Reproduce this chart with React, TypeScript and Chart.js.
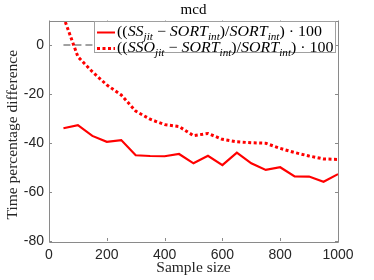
import React, { useEffect, useRef } from 'react';
import { Chart, registerables } from 'chart.js';

Chart.register(...registerables);

const SAMPLE_SIZES = [50, 100, 150, 200, 250, 300, 350, 400, 450, 500, 550, 600, 650, 700, 750, 800, 850, 900, 950, 1000];
const SS_JIT = [-34.0, -32.7, -37.1, -39.5, -38.8, -45.0, -45.3, -45.4, -44.5, -48.3, -45.2, -49.0, -43.9, -48.3, -51.0, -49.9, -53.6, -53.7, -55.8, -52.7];
const SSO_JIT = [11.5, -4.8, -10.9, -16.3, -20.4, -27.0, -30.3, -32.5, -33.3, -37.0, -36.1, -38.5, -39.5, -39.9, -40.1, -42.2, -43.9, -45.3, -46.5, -46.7];
const ZERO_X = [50, 1000];
const ZERO_Y = [0, 0];
const X_TICKS = [0, 200, 400, 600, 800, 1000];
const Y_TICKS = [-80, -60, -40, -20, 0];
const X_RANGE = [0, 1000];
const Y_RANGE = [-80, 10];
const TITLE = 'mcd';
const X_TITLE = 'Sample size';
const Y_TITLE = 'Time percentage difference';

type Seg = { t: string; it?: boolean; sub?: boolean };
const LEGEND_1: Seg[] = [
  { t: '((' }, { t: 'SS', it: true }, { t: 'jit', it: true, sub: true }, { t: ' − ' },
  { t: 'SORT', it: true }, { t: 'int', it: true, sub: true }, { t: ')/' },
  { t: 'SORT', it: true }, { t: 'int', it: true, sub: true }, { t: ') · 100' },
];
const LEGEND_2: Seg[] = [
  { t: '((' }, { t: 'SSO', it: true }, { t: 'jit', it: true, sub: true }, { t: ' − ' },
  { t: 'SORT', it: true }, { t: 'int', it: true, sub: true }, { t: ')/' },
  { t: 'SORT', it: true }, { t: 'int', it: true, sub: true }, { t: ') · 100' },
];

const SERIF = '"Liberation Serif", "DejaVu Serif", serif';
const AXIS_COLOR = '#262626';
const FRAME_COLOR = '#8a8a8a';
const RED = '#ff0000';

function mathWidth(ctx: CanvasRenderingContext2D, segs: Seg[], size: number) {
  let w = 0;
  for (const s of segs) {
    const fs = s.sub ? size * 0.7 : size;
    ctx.font = `${s.it ? 'italic ' : ''}${fs}px ${SERIF}`;
    w += ctx.measureText(s.t).width;
  }
  return w;
}

function drawMath(ctx: CanvasRenderingContext2D, segs: Seg[], x: number, y: number, size: number, sx: number) {
  ctx.save();
  ctx.translate(x, y);
  ctx.scale(sx, 1);
  let cx = 0;
  ctx.textBaseline = 'middle';
  ctx.textAlign = 'left';
  for (const s of segs) {
    const fs = s.sub ? size * 0.7 : size;
    ctx.font = `${s.it ? 'italic ' : ''}${fs}px ${SERIF}`;
    const dy = s.sub ? size * 0.3 : 0;
    ctx.fillText(s.t, cx, dy);
    cx += ctx.measureText(s.t).width;
  }
  ctx.restore();
}

const framePlugin = {
  id: 'frame',
  afterDatasetsDraw(chart: any) {
    const ctx: CanvasRenderingContext2D = chart.ctx;
    const { left, right, top, bottom } = chart.chartArea;
    const xs = chart.scales.x;
    const ys = chart.scales.y;
    ctx.save();
    ctx.strokeStyle = FRAME_COLOR;
    ctx.lineWidth = 1;
    ctx.setLineDash([]);
    ctx.beginPath();
    ctx.rect(Math.round(left) + 0.5, Math.round(top) + 0.5, Math.round(right - left), Math.round(bottom - top));
    ctx.stroke();
    const tl = 3;
    ctx.beginPath();
    for (const v of X_TICKS) {
      const px = Math.round(xs.getPixelForValue(v)) + 0.5;
      ctx.moveTo(px, bottom);
      ctx.lineTo(px, bottom - tl);
      ctx.moveTo(px, top);
      ctx.lineTo(px, top + tl);
    }
    for (const v of Y_TICKS) {
      const py = Math.round(ys.getPixelForValue(v)) + 0.5;
      ctx.moveTo(left, py);
      ctx.lineTo(left + tl, py);
      ctx.moveTo(right, py);
      ctx.lineTo(right - tl, py);
    }
    ctx.stroke();

    // legend
    const lx = 94.5, ly = 21.5, lw = 241, lh = 31;
    ctx.fillStyle = '#ffffff';
    ctx.fillRect(lx, ly, lw, lh);
    ctx.strokeStyle = '#a0a0a0';
    ctx.strokeRect(lx, ly, lw, lh);
    const size = 15;
    const w1 = mathWidth(ctx, LEGEND_1, size);
    const sx = 205 / w1;
    const rows = [
      { segs: LEGEND_1, y: 32.5, dash: [] as number[] },
      { segs: LEGEND_2, y: 48.5, dash: [3, 2.5] },
    ];
    for (const r of rows) {
      ctx.strokeStyle = RED;
      ctx.lineWidth = r.dash.length ? 3 : 2;
      ctx.setLineDash(r.dash);
      ctx.beginPath();
      ctx.moveTo(97, r.y);
      ctx.lineTo(115, r.y);
      ctx.stroke();
      ctx.setLineDash([]);
      ctx.fillStyle = '#000000';
      drawMath(ctx, r.segs, 117, r.y, size, sx);
    }
    ctx.restore();
  },
  afterDraw(chart: any) {
    const ctx: CanvasRenderingContext2D = chart.ctx;
    const { left, right, top, bottom } = chart.chartArea;
    ctx.save();
    ctx.fillStyle = '#000000';
    ctx.textAlign = 'center';
    ctx.textBaseline = 'middle';
    ctx.font = `15px ${SERIF}`;
    ctx.fillText(TITLE, (left + right) / 2, 10);
    ctx.font = `15.5px ${SERIF}`;
    ctx.fillStyle = AXIS_COLOR;
    ctx.fillText(X_TITLE, (left + right) / 2, 268);
    ctx.translate(13, (top + bottom) / 2 + 4);
    ctx.rotate(-Math.PI / 2);
    ctx.fillText(Y_TITLE, 0, 0);
    ctx.restore();
  },
};

export default function App() {
  const ref = useRef<HTMLCanvasElement | null>(null);
  useEffect(() => {
    document.body.style.margin = '0';
    if (!ref.current) return;
    const chart = new Chart(ref.current, {
      type: 'line',
      data: {
        datasets: [
          {
            label: 'zero',
            data: ZERO_X.map((x, i) => ({ x, y: ZERO_Y[i] })),
            borderColor: '#444444',
            borderWidth: 1,
            borderDash: [7, 4],
            pointRadius: 0,
            clip: 0,
          },
          {
            label: 'SS',
            data: SAMPLE_SIZES.map((x, i) => ({ x, y: SS_JIT[i] })),
            borderColor: RED,
            borderWidth: 2.2,
            pointRadius: 0,
            tension: 0,
            clip: 0,
          },
          {
            label: 'SSO',
            data: SAMPLE_SIZES.map((x, i) => ({ x, y: SSO_JIT[i] })),
            borderColor: RED,
            borderWidth: 3,
            borderDash: [3, 2.5],
            borderCapStyle: 'butt',
            pointRadius: 0,
            tension: 0,
            clip: 0,
          },
        ] as any,
      },
      options: {
        animation: false,
        responsive: true,
        maintainAspectRatio: false,
        layout: { padding: { top: 20.5, right: 36, left: 0, bottom: 0 } },
        plugins: {
          legend: { display: false },
          title: { display: false },
          tooltip: { enabled: false },
        },
        scales: {
          x: {
            type: 'linear',
            min: X_RANGE[0],
            max: X_RANGE[1],
            afterBuildTicks: (s: any) => { s.ticks = X_TICKS.map((v) => ({ value: v })); },
            afterFit: (s: any) => { s.height = 39; },
            grid: { display: false, drawTicks: false },
            border: { display: false },
            ticks: {
              padding: 6,
              color: AXIS_COLOR,
              font: { family: '"Liberation Sans", Arial, sans-serif', size: 14 },
              maxRotation: 0,
              callback: (v: any) => String(v),
            },
          },
          y: {
            type: 'linear',
            min: Y_RANGE[0],
            max: Y_RANGE[1],
            afterBuildTicks: (s: any) => { s.ticks = Y_TICKS.map((v) => ({ value: v })); },
            afterFit: (s: any) => { s.width = 49; },
            grid: { display: false, drawTicks: false },
            border: { display: false },
            ticks: {
              padding: 5,
              color: AXIS_COLOR,
              font: { family: '"Liberation Sans", Arial, sans-serif', size: 14 },
              callback: (v: any) => String(v),
            },
          },
        },
      },
      plugins: [framePlugin],
    });
    return () => chart.destroy();
  }, []);
  return (
    <div style={{ position: 'relative', width: 374, height: 280 }}>
      <canvas ref={ref} />
    </div>
  );
}
